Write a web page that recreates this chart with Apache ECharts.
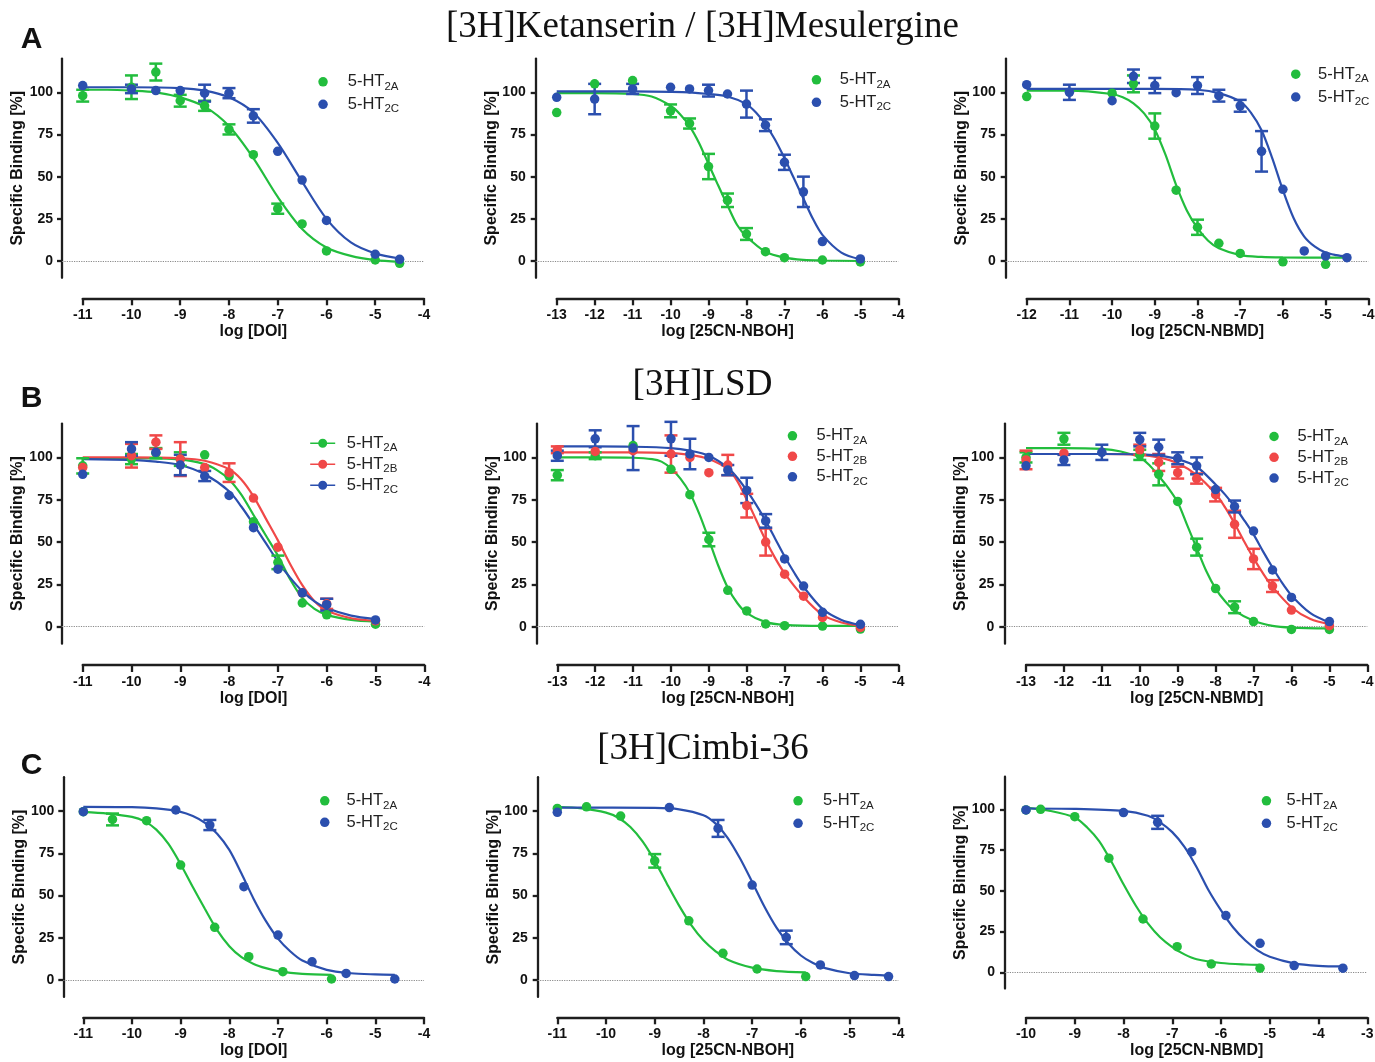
<!DOCTYPE html>
<html><head><meta charset="utf-8">
<script src="https://cdn.jsdelivr.net/npm/echarts@6/dist/echarts.min.js"></script>
<style>html,body{margin:0;padding:0;background:#fff}#c{width:1375px;height:1062px}</style>
</head><body><div id="c"></div><script>
// ---------- text ----------
const panelTitles = ['[3H]Ketanserin / [3H]Mesulergine', '[3H]LSD', '[3H]Cimbi-36'];
const panelLetters = ['A', 'B', 'C'];
const xNames = ['log [DOI]', 'log [25CN-NBOH]', 'log [25CN-NBMD]'];
const yName = 'Specific Binding [%]';
const yTicks = [0, 25, 50, 75, 100];
const receptorsAC = ['2A', '2C'];
const receptorsB = ['2A', '2B', '2C'];

// ---------- A1: [3H]Ketanserin/[3H]Mesulergine, DOI ----------
const A1_2A_x = [-11, -10, -9.5, -9, -8.5, -8, -7.5, -7, -6.5, -6, -5, -4.5];
const A1_2A_y = [98, 103, 112, 95, 92, 78, 63, 31, 22, 6, 0.6, -1.4];
const A1_2A_e = [3.5, 7, 5, 3.5, 3, 3, 0, 3, 0, 0, 0, 0];
const A1_2A_fx = [-11, -10.5, -10, -9.5, -9, -8.5, -8, -7.5, -7, -6.5, -6, -5.5, -5, -4.5];
const A1_2A_fy = [101.5, 101.5, 101, 100, 97, 91.5, 80, 61, 38, 19, 8, 3, 0.5, -0.5];
const A1_2C_x = [-11, -10, -9.5, -9, -8.5, -8, -7.5, -7, -6.5, -6, -5, -4.5];
const A1_2C_y = [104, 102, 101, 101, 99.5, 99.5, 86, 65, 48, 24, 4, 1];
const A1_2C_e = [0, 2.5, 0, 0, 5, 3, 4, 0, 0, 0, 0, 0];
const A1_2C_fx = [-11, -10, -9, -8.5, -8, -7.5, -7, -6.5, -6, -5.5, -5, -4.5];
const A1_2C_fy = [103, 103, 102.5, 101, 97, 88, 70, 47, 25, 11, 4.5, 1.5];

// ---------- A2: 25CN-NBOH ----------
const A2_2A_x = [-13, -12, -11, -10, -9.5, -9, -8.5, -8, -7.5, -7, -6, -5];
const A2_2A_y = [88, 105, 107, 89, 81.5, 56, 36, 16, 5.5, 2, 0.6, -0.6];
const A2_2A_e = [0, 0, 0, 3.8, 3, 7.5, 4, 3.5, 0, 0, 0, 0];
const A2_2A_fx = [-13, -12, -11, -10.5, -10, -9.75, -9.5, -9.25, -9, -8.75, -8.5, -8.25, -8, -7.5, -7, -6.5, -6, -5];
const A2_2A_fy = [99.5, 99.5, 99, 97.5, 92, 87, 80, 70, 57.5, 45, 33, 21.5, 14.5, 5.5, 2, 0.7, 0.3, 0];
const A2_2C_x = [-13, -12, -11, -10, -9.5, -9, -8.5, -8, -7.5, -7, -6.5, -6, -5];
const A2_2C_y = [97, 96, 102, 103, 102, 101, 99, 93, 80.5, 58.5, 41, 11.5, 1.2];
const A2_2C_e = [0, 9, 3, 0, 0, 3.5, 0, 8, 3.5, 4.5, 9, 0, 0];
const A2_2C_fx = [-13, -12, -11, -10, -9.5, -9, -8.5, -8, -7.75, -7.5, -7.25, -7, -6.75, -6.5, -6.25, -6, -5.5, -5];
const A2_2C_fy = [100.5, 100.5, 100.5, 100.3, 100, 99, 97.5, 93, 88, 81, 72, 61, 49, 37, 25, 15.5, 5, 1];

// ---------- A3: 25CN-NBMD ----------
const A3_2A_x = [-12, -10, -9.5, -9, -8.5, -8, -7.5, -7, -6, -5];
const A3_2A_y = [97.5, 99.5, 105, 80, 42, 20, 10.5, 4.5, -0.5, -2];
const A3_2A_e = [0, 0, 5, 7.5, 0, 4.5, 0, 0, 0, 0];
const A3_2A_fx = [-12, -11, -10, -9.75, -9.5, -9.25, -9, -8.75, -8.5, -8.25, -8, -7.75, -7.5, -7, -6.5, -6, -5, -4.5];
const A3_2A_fy = [101, 101, 99, 97, 93.5, 87.5, 78, 63, 45, 30, 19.5, 12, 7.5, 3.5, 2.4, 2.1, 2, 2];
const A3_2C_x = [-12, -11, -10, -9.5, -9, -8.5, -8, -7.5, -7, -6.5, -6, -5.5, -5, -4.5];
const A3_2C_y = [104.5, 100, 95, 109.5, 104, 99.8, 104, 98, 92, 65, 42.5, 6, 3, 2];
const A3_2C_e = [0, 4.5, 0, 4, 4.5, 0, 5, 3.5, 3.5, 12, 0, 0, 0, 0];
const A3_2C_fx = [-12, -10, -9, -8, -7.5, -7, -6.75, -6.5, -6.25, -6, -5.75, -5.5, -5.25, -5, -4.75, -4.5];
const A3_2C_fy = [102, 102, 102, 101.5, 99.5, 94.5, 88, 77.5, 61, 42, 25.5, 14.5, 8.5, 5, 3.5, 2.6];

// ---------- B1: [3H]LSD, DOI ----------
const B1_2A_x = [-11, -10, -9.5, -9, -8.5, -8, -7.5, -7, -6.5, -6, -5];
const B1_2A_y = [95, 99, 102.5, 99, 101.5, 89, 62, 38, 14, 7, 1.5];
const B1_2A_e = [4.5, 3, 3, 4, 0, 0, 0, 4, 0, 0, 0];
const B1_2A_fx = [-11, -10, -9, -8.5, -8.25, -8, -7.75, -7.5, -7.25, -7, -6.75, -6.5, -6.25, -6, -5.5, -5];
const B1_2A_fy = [99.5, 99.5, 98.8, 96, 92.5, 87, 78, 66, 54, 42, 28, 17, 10.5, 7, 4, 3];
const B1_2B_x = [-11, -10, -9.5, -9, -8.5, -8, -7.5, -7, -6.5, -6, -5];
const B1_2B_y = [94, 101, 109, 99, 94, 91, 76, 47, 20, 13.5, 3.5];
const B1_2B_e = [0, 7, 4, 10, 0, 5.5, 0, 0, 0, 3, 0];
const B1_2B_fx = [-11, -10, -9, -8.5, -8, -7.75, -7.5, -7.25, -7, -6.75, -6.5, -6.25, -6, -5.5, -5];
const B1_2B_fy = [100, 100, 99.5, 98, 93, 87, 77, 64, 51, 37, 24.5, 15, 9.5, 5, 3.5];
const B1_2C_x = [-11, -10, -9.5, -9, -8.5, -8, -7.5, -7, -6.5, -6, -5];
const B1_2C_y = [90, 105, 103, 95.5, 89, 77.5, 58.5, 34, 20, 13, 4];
const B1_2C_e = [0, 4, 0, 6, 3, 0, 0, 0, 0, 3.5, 0];
const B1_2C_fx = [-11, -10, -9.5, -9, -8.5, -8, -7.75, -7.5, -7.25, -7, -6.75, -6.5, -6.25, -6, -5.5, -5];
const B1_2C_fy = [99, 98.5, 97.5, 95.5, 90, 80, 71, 60.5, 49.5, 38.5, 29, 21, 15, 11, 6.5, 4.5];

// ---------- B2: 25CN-NBOH ----------
const B2_2A_x = [-13, -12, -11, -10, -9.5, -9, -8.5, -8, -7.5, -7, -6, -5];
const B2_2A_y = [89.5, 101, 107, 93, 78, 51.5, 21.5, 9.3, 1.6, 0.6, 0.4, -1.4];
const B2_2A_e = [3, 2, 0, 0, 0, 4, 0, 0, 0, 0, 0, 0];
const B2_2A_fx = [-13, -12, -11, -10.5, -10.25, -10, -9.75, -9.5, -9.25, -9, -8.75, -8.5, -8.25, -8, -7.5, -7, -6, -5];
const B2_2A_fy = [100, 100, 99.8, 99, 97.5, 93.5, 87.5, 79, 66.5, 51.5, 36, 23, 14, 8, 2.7, 1.1, 0.5, 0.5];
const B2_2B_x = [-13, -12, -11, -10, -9.5, -9, -8.5, -8, -7.5, -7, -6.5, -6, -5];
const B2_2B_y = [104.5, 103.5, 104, 102, 100, 91, 95.5, 71.5, 50, 31, 18, 5.5, -0.4];
const B2_2B_e = [2, 0, 0, 11, 0, 0, 6, 7, 8, 0, 0, 0, 0];
const B2_2B_fx = [-13, -12, -11, -10, -9.5, -9, -8.5, -8.25, -8, -7.75, -7.5, -7.25, -7, -6.5, -6, -5.5, -5];
const B2_2B_fy = [103, 103, 103, 102.5, 101.5, 99, 93, 86, 75, 63, 51, 40.5, 31.5, 17.5, 7, 2.5, 0.5];
const B2_2C_x = [-13, -12, -11, -10, -9.5, -9, -8.5, -8, -7.5, -7, -6.5, -6, -5];
const B2_2C_y = [101, 111, 105.5, 111, 102, 100, 92.5, 80.5, 62.5, 40, 24, 8.5, 1.4];
const B2_2C_e = [3, 5, 13, 10, 9, 0, 3, 7.5, 4, 0, 0, 0, 0];
const B2_2C_fx = [-13, -12, -11, -10, -9.5, -9, -8.5, -8.25, -8, -7.75, -7.5, -7.25, -7, -6.75, -6.5, -6, -5.5, -5];
const B2_2C_fy = [106.5, 106.5, 106.3, 105.5, 104, 101, 94, 88, 80.5, 72, 62.5, 52, 41.5, 32, 23.5, 10.5, 4, 1];

// ---------- B3: 25CN-NBMD ----------
const B3_2A_x = [-13, -12, -10, -9.5, -9, -8.5, -8, -7.5, -7, -6, -5];
const B3_2A_y = [100, 111, 101.5, 90, 74, 47, 22.5, 11.5, 3, -1.6, -1.6];
const B3_2A_e = [3, 3.5, 3, 6.5, 0, 5, 0, 3.5, 0, 0, 0];
const B3_2A_fx = [-13, -12, -11, -10.5, -10, -9.75, -9.5, -9.25, -9, -8.75, -8.5, -8.25, -8, -7.75, -7.5, -7, -6.5, -6, -5];
const B3_2A_fy = [105.5, 105.5, 105, 103.5, 100, 95.5, 89, 82, 73.5, 60, 46.5, 33, 22.5, 15, 9.5, 3.5, 0.5, -0.5, -1];
const B3_2B_x = [-13, -12, -10, -9.5, -9, -8.5, -8, -7.5, -7, -6.5, -6, -5];
const B3_2B_y = [98.5, 102.5, 104.5, 97, 91, 87.5, 78, 60.5, 40, 24, 9.8, 0.6];
const B3_2B_e = [5.5, 0, 3, 5, 3.5, 3, 4, 8, 6, 3.5, 0, 0];
const B3_2B_fx = [-13, -11, -10, -9.5, -9, -8.5, -8, -7.75, -7.5, -7.25, -7, -6.75, -6.5, -6, -5.5, -5];
const B3_2B_fy = [102, 102, 101.5, 100, 96.5, 89.5, 78.5, 70.5, 61, 50.5, 40.5, 31.5, 23.5, 11.5, 4.5, 1.5];
const B3_2C_x = [-13, -12, -11, -10, -9.5, -9, -8.5, -8, -7.5, -7, -6.5, -6, -5];
const B3_2C_y = [95, 98.5, 103, 110.5, 106, 99.5, 95, 81, 71, 56.5, 33.5, 17.3, 3];
const B3_2C_e = [0, 3, 4.5, 4, 4.5, 3.5, 5, 0, 3.5, 0, 0, 0, 0];
const B3_2C_fx = [-13, -11, -10, -9.5, -9, -8.5, -8, -7.75, -7.5, -7.25, -7, -6.75, -6.5, -6.25, -6, -5.5, -5];
const B3_2C_fy = [102, 102, 101.8, 101, 99, 94.5, 84, 78, 71, 63, 54.5, 44.5, 35, 26, 18.5, 8, 2.5];

// ---------- C1: [3H]Cimbi-36, DOI ----------
const C1_2A_x = [-11, -10.4, -9.7, -9, -8.3, -7.6, -6.9, -5.9];
const C1_2A_y = [99.6, 95, 94.3, 68, 31.2, 13.8, 4.9, 0.6];
const C1_2A_e = [0, 3.5, 0, 0, 0, 0, 0, 0];
const C1_2A_fx = [-11, -10.5, -10, -9.75, -9.5, -9.25, -9, -8.75, -8.5, -8.25, -8, -7.75, -7.5, -7.25, -7, -6.5, -5.9];
const C1_2A_fy = [99.5, 98.5, 96.5, 94, 89, 80.5, 68.5, 55, 42, 29.5, 20, 13.5, 9.5, 7, 5.3, 3.6, 3];
const C1_2C_x = [-11, -9.1, -8.4, -7.7, -7, -6.3, -5.6, -4.6];
const C1_2C_y = [99.6, 100.6, 91.7, 55.2, 26.6, 10.8, 3.9, 0.6];
const C1_2C_e = [0, 0, 3, 0, 0, 0, 0, 0];
const C1_2C_fx = [-11, -10, -9.5, -9, -8.75, -8.5, -8.25, -8, -7.75, -7.5, -7.25, -7, -6.75, -6.5, -6, -5.5, -5, -4.6];
const C1_2C_fy = [102.5, 102.3, 101.5, 99.5, 97, 93, 86.5, 77, 63, 48, 35, 24.5, 17, 11.5, 6, 4, 3.3, 3];

// ---------- C2: 25CN-NBOH ----------
const C2_2A_x = [-11, -10.4, -9.7, -9, -8.3, -7.6, -6.9, -5.9];
const C2_2A_y = [101.5, 102.5, 97, 70.5, 35, 15.8, 6.5, 2];
const C2_2A_e = [0, 0, 0, 4, 0, 0, 0, 0];
const C2_2A_fx = [-11, -10.5, -10, -9.75, -9.5, -9.25, -9, -8.75, -8.5, -8.25, -8, -7.75, -7.5, -7, -6.5, -5.9];
const C2_2A_fy = [102.5, 101.5, 99, 96, 90.5, 82, 70.5, 57, 44, 32.5, 23.5, 17, 12, 7.3, 5.3, 4.5];
const C2_2C_x = [-11, -8.7, -7.7, -7, -6.3, -5.6, -4.9, -4.2];
const C2_2C_y = [99.2, 102, 89.7, 56.2, 25.2, 8.9, 2.6, 2];
const C2_2C_e = [0, 0, 5, 0, 4, 0, 0, 0];
const C2_2C_fx = [-11, -9, -8.5, -8, -7.75, -7.5, -7.25, -7, -6.75, -6.5, -6.25, -6, -5.75, -5.5, -5, -4.5, -4.2];
const C2_2C_fy = [102, 101.8, 101, 97.5, 92.5, 84, 72, 58, 43.5, 31, 21.5, 14.5, 10, 7, 4, 3, 2.7];

// ---------- C3: 25CN-NBMD ----------
const C3_2A_x = [-10, -9.7, -9, -8.3, -7.6, -6.9, -6.2, -5.2];
const C3_2A_y = [99.6, 100, 95.5, 70, 32.7, 15.7, 5.1, 2.5];
const C3_2A_e = [0, 0, 0, 0, 0, 0, 0, 0];
const C3_2A_fx = [-10, -9.5, -9, -8.75, -8.5, -8.25, -8, -7.75, -7.5, -7.25, -7, -6.75, -6.5, -6, -5.5, -5.2];
const C3_2A_fy = [101, 99, 95, 89, 80.5, 68, 54, 41, 30, 21.5, 15.5, 11, 8, 5.7, 4.8, 4.6];
const C3_2C_x = [-10, -8, -7.3, -6.6, -5.9, -5.2, -4.5, -3.5];
const C3_2C_y = [99.6, 98, 92, 74, 34.8, 17.8, 4.1, 2.5];
const C3_2C_e = [0, 0, 4, 0, 0, 0, 0, 0];
const C3_2C_fx = [-10, -9, -8, -7.5, -7.25, -7, -6.75, -6.5, -6.25, -6, -5.75, -5.5, -5.25, -5, -4.5, -4, -3.5];
const C3_2C_fy = [100.5, 100.3, 99, 96, 92, 86, 77, 64.5, 50, 38, 27.5, 19.5, 13.5, 9.5, 5.5, 4, 3.6];

// ---------- assemble ----------
function S(x, y, e, fx, fy) { return { x, y, e, fx, fy }; }
const DATA = {
  A1: { '2A': S(A1_2A_x, A1_2A_y, A1_2A_e, A1_2A_fx, A1_2A_fy), '2C': S(A1_2C_x, A1_2C_y, A1_2C_e, A1_2C_fx, A1_2C_fy) },
  A2: { '2A': S(A2_2A_x, A2_2A_y, A2_2A_e, A2_2A_fx, A2_2A_fy), '2C': S(A2_2C_x, A2_2C_y, A2_2C_e, A2_2C_fx, A2_2C_fy) },
  A3: { '2A': S(A3_2A_x, A3_2A_y, A3_2A_e, A3_2A_fx, A3_2A_fy), '2C': S(A3_2C_x, A3_2C_y, A3_2C_e, A3_2C_fx, A3_2C_fy) },
  B1: { '2A': S(B1_2A_x, B1_2A_y, B1_2A_e, B1_2A_fx, B1_2A_fy), '2B': S(B1_2B_x, B1_2B_y, B1_2B_e, B1_2B_fx, B1_2B_fy), '2C': S(B1_2C_x, B1_2C_y, B1_2C_e, B1_2C_fx, B1_2C_fy) },
  B2: { '2A': S(B2_2A_x, B2_2A_y, B2_2A_e, B2_2A_fx, B2_2A_fy), '2B': S(B2_2B_x, B2_2B_y, B2_2B_e, B2_2B_fx, B2_2B_fy), '2C': S(B2_2C_x, B2_2C_y, B2_2C_e, B2_2C_fx, B2_2C_fy) },
  B3: { '2A': S(B3_2A_x, B3_2A_y, B3_2A_e, B3_2A_fx, B3_2A_fy), '2B': S(B3_2B_x, B3_2B_y, B3_2B_e, B3_2B_fx, B3_2B_fy), '2C': S(B3_2C_x, B3_2C_y, B3_2C_e, B3_2C_fx, B3_2C_fy) },
  C1: { '2A': S(C1_2A_x, C1_2A_y, C1_2A_e, C1_2A_fx, C1_2A_fy), '2C': S(C1_2C_x, C1_2C_y, C1_2C_e, C1_2C_fx, C1_2C_fy) },
  C2: { '2A': S(C2_2A_x, C2_2A_y, C2_2A_e, C2_2A_fx, C2_2A_fy), '2C': S(C2_2C_x, C2_2C_y, C2_2C_e, C2_2C_fx, C2_2C_fy) },
  C3: { '2A': S(C3_2A_x, C3_2A_y, C3_2A_e, C3_2A_fx, C3_2A_fy), '2C': S(C3_2C_x, C3_2C_y, C3_2C_e, C3_2C_fx, C3_2C_fy) }
};

// ---------- style / layout ----------
const FONT = '"Liberation Sans", Arial, Helvetica, sans-serif';
const SERIF = '"Liberation Serif", "Times New Roman", Times, serif';
const COLORS = { '2A': '#22bd3d', '2B': '#f04848', '2C': '#2b4fae' };
const AX = '#1e1e1e';
const LINE_ICON = 'path://M0,4.2L8.6,4.2L8.6,5.8L0,5.8Z M16.4,4.2L25,4.2L25,5.8L16.4,5.8Z M8,5A4.5,4.5 0 1,1 17,5A4.5,4.5 0 1,1 8,5Z';

const LAYOUT = [
  { id: 'A1', col: 0, row: 0, ax: 62,    x0: 82.7,  x1: 424,    y0: 261,   ppu: 1.687, lineY: 298.3,  xmin: -11, xmax: -4, lab: 9,  lg: { cx: 323.3, cy: 84.3,  tx: 348,   gap: 25 } },
  { id: 'A2', col: 1, row: 0, ax: 535.7, x0: 556.7, x1: 898.3,  y0: 261,   ppu: 1.687, lineY: 298.3,  xmin: -13, xmax: -4, lab: 10, lg: { cx: 816.7, cy: 82.3,  tx: 840,   gap: 25 } },
  { id: 'A3', col: 2, row: 0, ax: 1005.7,x0: 1026.7,x1: 1368.3, y0: 261,   ppu: 1.687, lineY: 298.3,  xmin: -12, xmax: -4, lab: 10, lg: { cx: 1296,  cy: 76.7,  tx: 1318.3,gap: 25.3 } },
  { id: 'B1', col: 0, row: 1, ax: 61.7,  x0: 82.7,  x1: 424.3,  y0: 626.7, ppu: 1.693, lineY: 665,    xmin: -11, xmax: -4, lab: 9,  lg: { cx: 322.7, cy: 445.7, tx: 346.7, gap: 23.5, line: true } },
  { id: 'B2', col: 1, row: 1, ax: 536.7, x0: 557.3, x1: 898.3,  y0: 626.7, ppu: 1.693, lineY: 665,    xmin: -13, xmax: -4, lab: 10, lg: { cx: 792.7, cy: 438.3, tx: 816.7, gap: 23 } },
  { id: 'B3', col: 2, row: 1, ax: 1004.3,x0: 1026,  x1: 1367.3, y0: 626.7, ppu: 1.693, lineY: 665,    xmin: -13, xmax: -4, lab: 10, lg: { cx: 1274.3,cy: 439,   tx: 1297.7,gap: 23.3 } },
  { id: 'C1', col: 0, row: 2, ax: 63.3,  x0: 83.3,  x1: 424,    y0: 980,   ppu: 1.69,  lineY: 1017.3, xmin: -11, xmax: -4, lab: 9,  lg: { cx: 325,   cy: 803.3, tx: 346.7, gap: 24 } },
  { id: 'C2', col: 1, row: 2, ax: 537.7, x0: 557.3, x1: 898.3,  y0: 980,   ppu: 1.69,  lineY: 1017.3, xmin: -11, xmax: -4, lab: 10, lg: { cx: 798.3, cy: 803.3, tx: 823.3, gap: 25 } },
  { id: 'C3', col: 2, row: 2, ax: 1005,  x0: 1026,  x1: 1367.3, y0: 972.3, ppu: 1.63,  lineY: 1017.3, xmin: -10, xmax: -3, lab: 10, lg: { cx: 1266.7,cy: 803.3, tx: 1286.7,gap: 25 } }
];

const grids = [], xAxes = [], yAxes = [], series = [], legends = [];
const labelStyle = { fontSize: 14, fontWeight: 'bold', color: '#111', fontFamily: FONT };
const nameStyle = { fontSize: 16, fontWeight: 'bold', color: '#111', fontFamily: FONT };

LAYOUT.forEach((p, i) => {
  const recs = p.row === 1 ? receptorsB : receptorsAC;
  const pxPerX = (p.x1 - p.x0) / (p.xmax - p.xmin);
  const dataMin = p.xmin - (p.x0 - p.ax) / pxPerX;
  const top = p.y0 - 120 * p.ppu;
  grids.push({ left: p.ax, top: top, width: p.x1 - p.ax, height: 130 * p.ppu, outerBoundsMode: 'none', containLabel: false });
  grids.push({ left: p.x0, top: p.lineY - 10, width: p.x1 - p.x0, height: 10, outerBoundsMode: 'none', containLabel: false });
  const gi = 2 * i;
  xAxes.push({ gridIndex: gi, type: 'value', min: dataMin, max: p.xmax, show: false });
  xAxes.push({
    gridIndex: gi + 1, type: 'value', min: p.xmin, max: p.xmax, interval: 1, position: 'bottom',
    axisLine: { show: true, onZero: false, lineStyle: { color: AX, width: 2.3 } },
    axisTick: { show: true, inside: false, length: 7, lineStyle: { color: AX, width: 2.3 } },
    axisLabel: Object.assign({ show: true, margin: 10, showMinLabel: true, showMaxLabel: true, hideOverlap: false }, labelStyle),
    splitLine: { show: false },
    name: xNames[p.col], nameLocation: 'middle', nameGap: 25.5, nameMoveOverlap: false, nameTextStyle: nameStyle
  });
  yAxes.push({
    gridIndex: gi, type: 'value', min: -10, max: 120, position: 'left',
    axisLine: { show: true, onZero: false, lineStyle: { color: AX, width: 2.3 } },
    axisTick: { show: true, inside: false, length: 5, customValues: yTicks, lineStyle: { color: AX, width: 2.3 } },
    axisLabel: Object.assign({ show: true, margin: p.lab, customValues: yTicks }, labelStyle),
    splitLine: { show: false },
    name: yName, nameLocation: 'middle', nameGap: 36, nameRotate: 90, nameMoveOverlap: false, nameTextStyle: nameStyle
  });
  yAxes.push({ gridIndex: gi + 1, type: 'value', min: 0, max: 1, show: false });

  recs.forEach((r, k) => {
    const d = DATA[p.id][r];
    const c = COLORS[r];
    const fit = {
      type: 'line', name: p.id + '_' + r + '_fit', xAxisIndex: gi, yAxisIndex: gi,
      data: d.fx.map((x, j) => [x, d.fy[j]]), smooth: 0.3, symbol: 'none', showSymbol: false,
      lineStyle: { color: c, width: 2.2 }, itemStyle: { color: c }, z: 3, silent: true, clip: false
    };
    if (k === 0) {
      fit.markLine = {
        silent: true, symbol: 'none', label: { show: false }, animation: false,
        lineStyle: { color: '#8a8a8a', type: 'dotted', width: 1.2 }, data: [{ yAxis: 0 }], z: 1
      };
    }
    series.push(fit);
    const eb = [];
    d.x.forEach((x, j) => { if (d.e[j] > 0) eb.push([x, d.y[j], d.e[j]]); });
    series.push({
      type: 'custom', name: p.id + '_' + r + '_err', xAxisIndex: gi, yAxisIndex: gi, data: eb,
      encode: { x: 0, y: 1 }, z: 4, silent: true, clip: false,
      renderItem: (params, api) => {
        const x = api.value(0), y = api.value(1), e = api.value(2);
        const t = api.coord([x, y + e]), b = api.coord([x, y - e]);
        const cw = 6.5, st = { stroke: c, lineWidth: 2.5 };
        return { type: 'group', children: [
          { type: 'line', shape: { x1: t[0], y1: t[1], x2: b[0], y2: b[1] }, style: st },
          { type: 'line', shape: { x1: t[0] - cw, y1: t[1], x2: t[0] + cw, y2: t[1] }, style: st },
          { type: 'line', shape: { x1: b[0] - cw, y1: b[1], x2: b[0] + cw, y2: b[1] }, style: st }
        ] };
      }
    });
    series.push({
      type: 'scatter', name: p.id + '_' + r, xAxisIndex: gi, yAxisIndex: gi,
      data: d.x.map((x, j) => [x, d.y[j]]), symbol: 'circle', symbolSize: 9.5,
      itemStyle: { color: c, opacity: 1 }, z: 5, silent: true, clip: false
    });
  });

  const lg = p.lg;
  const iw = lg.line ? 25 : 10;
  legends.push({
    data: recs.map(r => ({ name: p.id + '_' + r, icon: lg.line ? LINE_ICON : 'circle' })),
    orient: 'vertical', left: lg.cx - iw / 2, top: lg.cy - 11,
    itemWidth: iw, itemHeight: lg.line ? 10 : 9.5, itemGap: lg.gap - 22, symbolKeepAspect: true,
    selectedMode: false, padding: 0,
    formatter: n => '{t|5-HT}{s|' + n.split('_')[1] + '}',
    textStyle: {
      padding: [0, 0, 0, lg.tx - (lg.cx + iw / 2 + 5)],
      rich: {
        t: { fontSize: 16.5, color: '#222', fontFamily: FONT, lineHeight: 22, verticalAlign: 'middle' },
        s: { fontSize: 11.5, color: '#222', fontFamily: FONT, lineHeight: 11, verticalAlign: 'bottom' }
      }
    }
  });
});

const graphics = [];
const titlePos = [[702.5, 27.5], [702.5, 385], [703, 749]];
const letterPos = [[31.5, 40], [31.5, 398.5], [31.5, 766]];
panelTitles.forEach((t, i) => {
  graphics.push({ type: 'text', x: titlePos[i][0], y: titlePos[i][1], silent: true,
    style: { text: t, fontSize: 37, fontFamily: SERIF, fill: '#111', textAlign: 'center', textVerticalAlign: 'middle', align: 'center', verticalAlign: 'middle' } });
});
panelLetters.forEach((t, i) => {
  graphics.push({ type: 'text', x: letterPos[i][0], y: letterPos[i][1], silent: true,
    style: { text: t, fontSize: 30, fontWeight: 'bold', fontFamily: FONT, fill: '#111', textAlign: 'center', textVerticalAlign: 'middle', align: 'center', verticalAlign: 'middle' } });
});

const chart = echarts.init(document.getElementById('c'), null, { renderer: 'canvas' });
chart.setOption({
  animation: false,
  backgroundColor: '#fff',
  grid: grids, xAxis: xAxes, yAxis: yAxes, series: series, legend: legends, graphic: graphics
});
</script></body></html>
